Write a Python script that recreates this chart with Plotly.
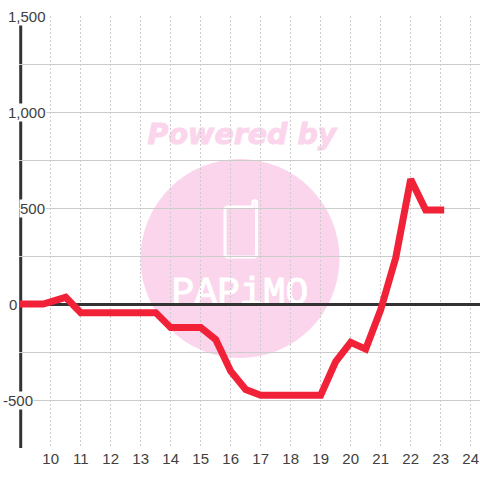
import plotly.graph_objects as go

hours = [9, 9.75, 10.5, 11, 11.5, 12, 12.5, 13, 13.5, 14, 14.5, 15, 15.5, 16, 16.5, 17,
         17.5, 18, 18.5, 19, 19.5, 20, 20.5, 21, 21.5, 22, 22.5, 23]
values = [0, 0, 35, -45, -45, -45, -45, -45, -45, -123, -123, -123, -185, -350, -445, -475,
          -475, -475, -475, -475, -300, -200, -235, -30, 240, 650, 490, 490]
x_ticks = list(range(10, 25))
y_grid = [-750, -500, -250, 0, 250, 500, 750, 1000, 1250, 1500]
y_labels = {1500: "1,500", 1000: "1,000", 500: "500", 0: "0", -500: "-500"}
y_label_left = {1500: 7, 1000: 7, 500: 19, 0: 8, -500: 2}

W, H = 480, 480
L, R, T, B = 19, 0, 16, 32
PINK = "#fbd5ec"
TXT = "#404040"
FS = 15


def px(x):
    return (x - L) / (W - L - R)


def py(y):
    return 1 - (y - T) / (H - T - B)


def rect_label(text, x0, y0, x1, y1, color, family, size):
    return dict(type="rect", xref="paper", yref="paper", layer="below",
                x0=px(x0), x1=px(x1), y0=py(y1), y1=py(y0),
                line=dict(width=0), fillcolor="rgba(0,0,0,0)",
                label=dict(text=text, font=dict(color=color, family=family, size=size),
                           textposition="middle center"))


phone = (f"M {px(225)} {py(210)} Q {px(225)} {py(207)} {px(228)} {py(207)} L {px(253)} {py(207)} "
         f"L {px(253)} {py(201.5)} Q {px(255)} {py(199.5)} {px(256.5)} {py(201.5)} "
         f"L {px(256.5)} {py(254)} Q {px(256.5)} {py(257)} {px(253)} {py(257)} "
         f"L {px(228)} {py(257)} Q {px(225)} {py(257)} {px(225)} {py(254)} Z")

shapes = [
    dict(type="circle", xref="paper", yref="paper", layer="below",
         x0=px(140.5), x1=px(339.5), y0=py(358), y1=py(159),
         fillcolor=PINK, line=dict(width=0)),
    dict(type="path", xref="paper", yref="paper", layer="below", path=phone,
         line=dict(color="white", width=3), fillcolor="rgba(0,0,0,0)"),
    rect_label("<b><i>Powered by</i></b>", 140, 113, 344, 151, PINK, "DejaVu Sans", 28.5),
    rect_label("PAPiMO", 160, 269, 320, 305, "white", "Liberation Mono", 38),
    # left axis rule, under the trace but above the grid
    dict(type="line", xref="x", yref="paper", layer="between",
         x0=hours[0], x1=hours[0], y0=0, y1=1,
         line=dict(color="#333333", width=3)),
]

annotations = [
    dict(x=0, xref="paper", y=v, yref="y", xshift=y_label_left[v] - L,
         xanchor="left", yanchor="middle", text=t, showarrow=False,
         font=dict(family="Liberation Sans", size=FS, color=TXT),
         bgcolor="white", borderpad=0)
    for v, t in y_labels.items()
]

fig = go.Figure(go.Scatter(
    x=hours, y=values, mode="lines", cliponaxis=False, hoverinfo="skip",
    line=dict(color="#f12138", width=7, shape="linear"),
))

fig.update_layout(
    width=W, height=H, margin=dict(l=L, r=R, t=T, b=B, pad=0),
    paper_bgcolor="white", plot_bgcolor="rgba(0,0,0,0)",
    showlegend=False, shapes=shapes, annotations=annotations,
    font=dict(family="Liberation Sans", size=FS, color=TXT),
    xaxis=dict(range=[8.943, 24.31], tickmode="array", tickvals=x_ticks,
               ticktext=[str(v) for v in x_ticks], showgrid=True,
               gridcolor="#cccccc", gridwidth=1, griddash="2px,2px",
               zeroline=False, showline=False, ticks="", layer="below traces",
               tickfont=dict(family="Liberation Sans", size=FS, color=TXT)),
    yaxis=dict(range=[-750, 1500], tickmode="array", tickvals=y_grid,
               showticklabels=False, showgrid=True, gridcolor="#cccccc", gridwidth=1.2,
               zeroline=True, zerolinecolor="#333333", zerolinewidth=3,
               showline=False, ticks="", layer="below traces"),
)

fig.write_html(
    "out.html",
    config={"displayModeBar": False},
    post_script="document.body.style.margin='0';document.documentElement.style.overflow='hidden';"
                "document.querySelectorAll('.js-line').forEach(function(e){"
                "e.style.strokeLinecap='square';e.style.strokeLinejoin='miter';"
                "e.style.strokeMiterlimit='2';});"
                "document.querySelectorAll('.shapelayer text').forEach(function(e){"
                "e.style.stroke=e.style.fill;e.style.strokeWidth='1px';});",
)
